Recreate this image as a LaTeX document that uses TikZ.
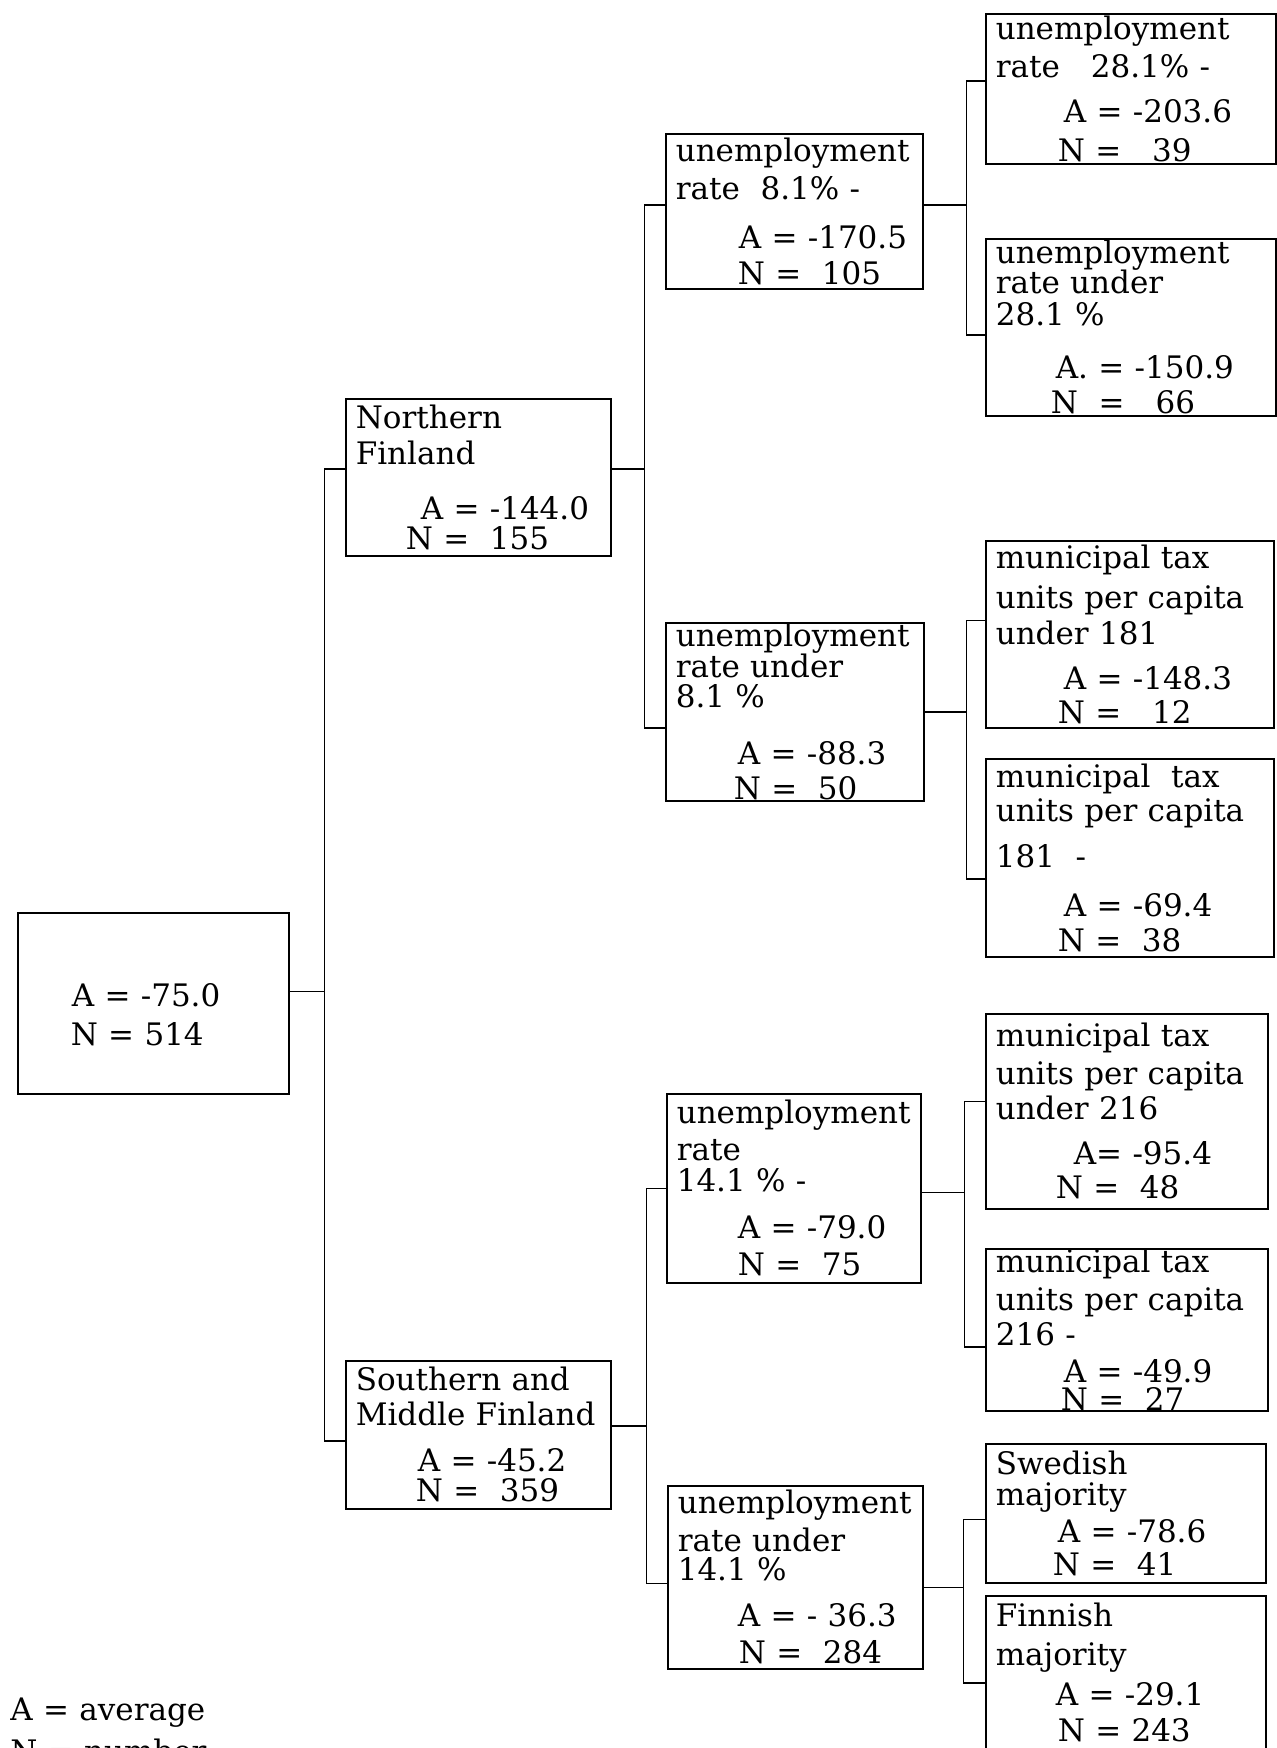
\documentclass[tikz,border=0pt]{standalone}
\usepackage{fontspec}
\setmainfont{DejaVu Serif}
\newcommand{\boxfont}{\fontsize{15.5}{17}\selectfont\hyphenpenalty=10000\exhyphenpenalty=10000}

\begin{document}
\begin{tikzpicture}[x=0.5pt, y=-0.5pt,
    tbox/.style 2 args={draw, line width=0.8pt, anchor=north west, align=left,
      inner xsep=5pt, inner ysep=0pt, font=\boxfont, text width=#1, minimum height=#2},
    link/.style={line width=0.8pt}]
  \useasboundingbox (0,0) rectangle (1277,1748);
  \clip (0,0) rectangle (1277,1748);

  % whole sample
  \node[tbox={125.5pt}{90.5pt}] (all) at (17,912)
    {\rule{0pt}{23pt}\hspace*{22pt}A = -75.0\\[2.5pt]\hspace*{21.5pt}N = 514};

  % regions
  \node[tbox={122.5pt}{78.5pt}] (nf) at (345,398)
    {Northern\\[1pt]Finland\\[10.5pt]\hspace*{32.5pt}A = -144.0\\[-2pt]\hspace*{25pt}N = \ 155};
  \node[tbox={122.5pt}{74pt}] (smf) at (345,1360)
    {Southern and\\[0.5pt]Middle Finland\\[6pt]\hspace*{31pt}A = -45.2\\[-2pt]\hspace*{30pt}N = \ 359};

  % unemployment splits
  \node[tbox={118.5pt}{77.5pt}] (u81) at (665,133)
    {unemployment\\[2pt]rate \ 8.1\% -\\[7.5pt]\hspace*{31.5pt}A = -170.5\\[1pt]\hspace*{31pt}N = \ 105};
  \node[tbox={119pt}{89pt}] (u81u) at (665,622)
    {unemployment\\[-1.5pt]rate under\\[-2pt]8.1 \%\\[11.5pt]\hspace*{31pt}A = -88.3\\[0.5pt]\hspace*{29pt}N = \ 50};
  \node[tbox={117pt}{94.5pt}] (u141) at (666,1093)
    {unemployment\\[1.5pt]rate\\[-1.5pt]14.1 \% -\\[6.5pt]\hspace*{30.5pt}A = -79.0\\[1.5pt]\hspace*{30.5pt}N = \ 75};
  \node[tbox={117.5pt}{91.5pt}] (u141u) at (667,1485)
    {unemployment\\[2pt]rate under\\[-2.5pt]14.1 \%\\[6pt]\hspace*{30pt}A = - 36.3\\[1.5pt]\hspace*{30.5pt}N = \ 284};

  % last level
  \node[tbox={135pt}{75pt}] (ur28) at (985,13)
    {unemployment\\[2pt]rate \ \ 28.1\% -\\[5.5pt]\hspace*{34pt}A = -203.6\\[2.5pt]\hspace*{31pt}N = \ \ 39};
  \node[tbox={135pt}{88.5pt}] (ur28u) at (985,238)
    {unemployment\\[-2pt]rate under\\[-1pt]28.1 \%\\[9.5pt]\hspace*{30pt}A. = -150.9\\[0.5pt]\hspace*{27.5pt}N \ = \ \ 66};
  \node[tbox={134pt}{93.5pt}] (mt181u) at (985,540)
    {municipal tax\\[3pt]units per capita\\[1pt]under 181\\[5.5pt]\hspace*{34pt}A = -148.3\\\hspace*{31pt}N = \ \ 12};
  \node[tbox={134pt}{99pt}] (mt181) at (985,758)
    {municipal \ tax\\units per capita\\[6pt]181 \ -\\[7.5pt]\hspace*{34pt}A = -69.4\\[0.5pt]\hspace*{31pt}N = \ 38};
  \node[tbox={131pt}{97.5pt}] (mt216u) at (985,1013)
    {municipal tax\\[2pt]units per capita\\[0.5pt]under 216\\[5.5pt]\hspace*{39pt}A= -95.4\\\hspace*{30pt}N = \ 48};
  \node[tbox={131pt}{75pt}] (mt216) at (985,1248)
    {municipal tax\\[2pt]units per capita\\[0.5pt]216 -\\[1.5pt]\hspace*{34pt}A = -49.9\\[-3pt]\hspace*{32.5pt}N = \ 27};
  \node[tbox={130pt}{69.5pt}] (swe) at (985,1443)
    {Swedish\\[-1.5pt]majority\\[1.5pt]\hspace*{31pt}A = -78.6\\[-0.5pt]\hspace*{28.5pt}N = \ 41};
  \node[tbox={130pt}{77pt}] (fin) at (985,1595)
    {Finnish\\[2.5pt]majority\\[3pt]\hspace*{30pt}A = -29.1\\[1pt]\hspace*{31pt}N = 243};

  % key
  \node[anchor=base west, align=left, font=\boxfont, inner sep=0pt, text width=150pt] (key) at (10,1720)
    {A = average\\[4pt]N = number};

  % branches
  \draw[link] ([yshift=6pt]all.east) -- ++(35,0) coordinate (j0);
  \draw[link] ([yshift=4pt]nf.west) -| (j0) |- ([yshift=-3pt]smf.west);

  \draw[link] ([yshift=4pt]nf.east) -- ++(33,0) coordinate (j1);
  \draw[link] ([yshift=3pt]u81.west) -| (j1) |- ([yshift=-8pt]u81u.west);
  \draw[link] ([yshift=4.5pt]smf.east) -- ++(35,0) coordinate (j2);
  \draw[link] (u141.west) -| (j2) |- ([yshift=-3pt]u141u.west);

  \draw[link] ([yshift=3pt]u81.east) -- ++(43,0) coordinate (j3);
  \draw[link] ([yshift=4pt]ur28.west) -| (j3) |- ([yshift=-4pt]ur28u.west);
  \draw[link] (u81u.east) -- ++(42,0) coordinate (j4);
  \draw[link] ([yshift=7pt]mt181u.west) -| (j4) |- ([yshift=-10.5pt]mt181.west);
  \draw[link] ([yshift=-2pt]u141.east) -- ++(43,0) coordinate (j5);
  \draw[link] ([yshift=5pt]mt216u.west) -| (j5) |- ([yshift=-8.5pt]mt216.west);
  \draw[link] ([yshift=-5pt]u141u.east) -- ++(40,0) coordinate (j6);
  \draw[link] ([yshift=-3pt]swe.west) -| (j6) |- ([yshift=-5pt]fin.west);
\end{tikzpicture}
\end{document}
